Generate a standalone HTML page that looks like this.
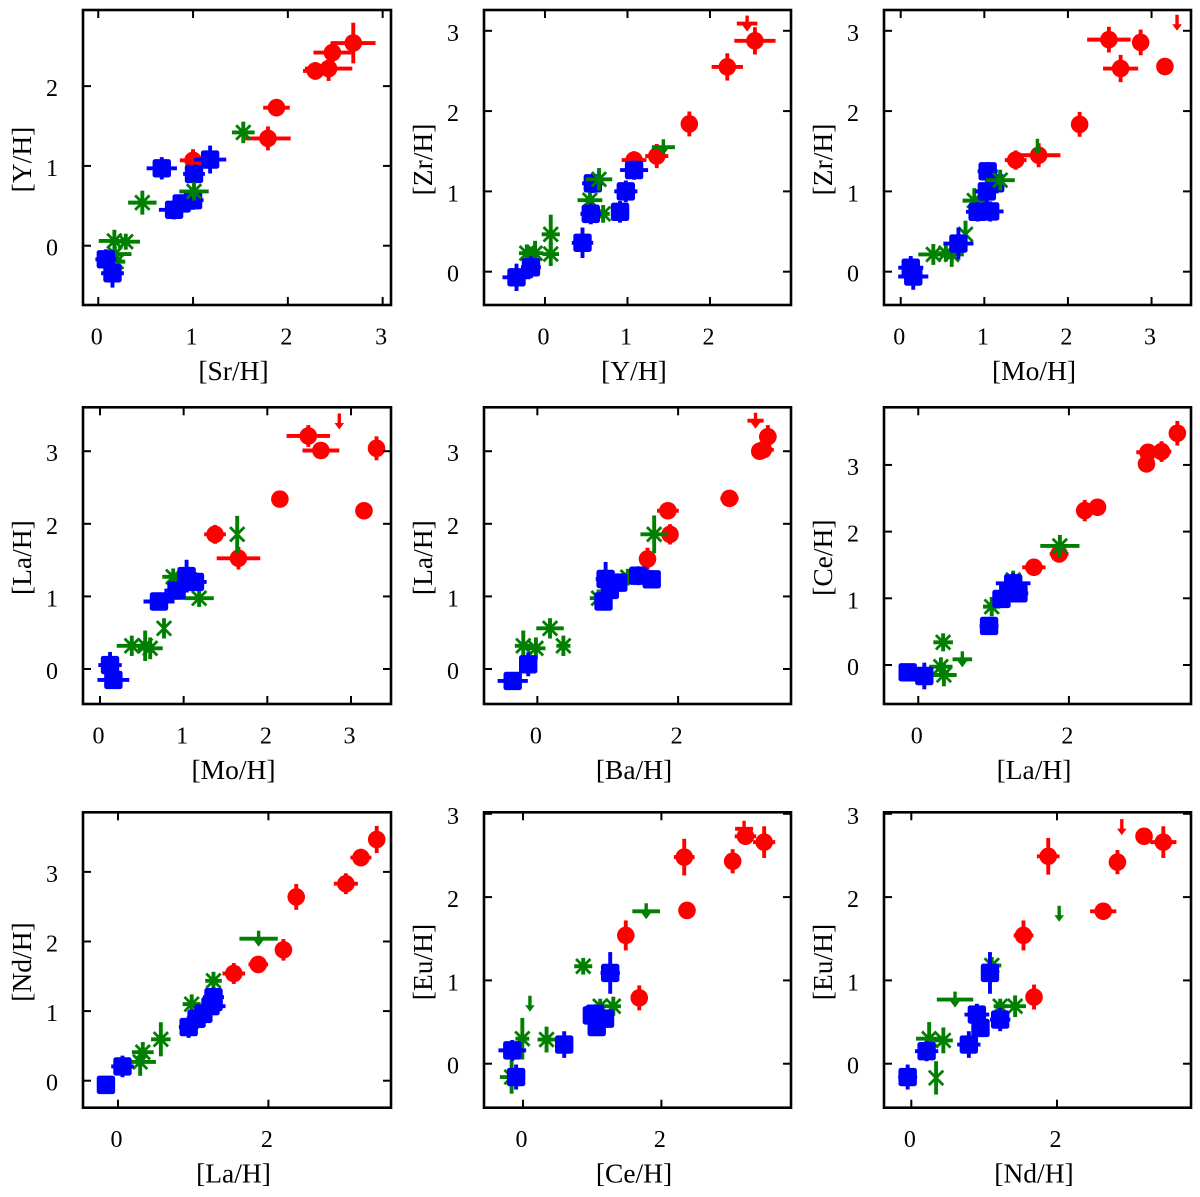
<!DOCTYPE html>
<html lang="en">
<head>
<meta charset="utf-8">
<title>Abundance correlations</title>
<style>
html,body{margin:0;padding:0;background:#fff;width:1200px;height:1197px;overflow:hidden}
svg{display:block;font-family:"Liberation Serif",serif;fill:#000}
</style>
</head>
<body>
<svg id="chart" xmlns="http://www.w3.org/2000/svg" width="1200" height="1197" viewBox="0 0 1200 1197"></svg>
<script>
// Panel 1: [Sr/H] vs [Y/H]
const p1Series=['r','r','r','r','r','r','r','g','g','g','g','g','g','b','b','b','b','b','b','b','b','g'];
const p1X=[1.00,1.79,1.88,2.29,2.43,2.47,2.69,0.465,1.53,0.17,0.29,0.175,0.19,0.67,1.18,1.01,0.80,0.88,1.00,0.08,0.15,1.01];
const p1Y=[1.07,1.345,1.73,2.19,2.22,2.42,2.54,0.54,1.42,0.06,0.05,-0.105,-0.20,0.97,1.08,0.90,0.45,0.53,0.57,-0.17,-0.345,0.68];
const p1XErr=[0.14,0.24,0.14,0.13,0.25,0.20,0.235,0.15,0.12,0.165,0.15,0.175,0.095,0.16,0.17,0.115,0.16,0.12,0.11,0.11,0.12,0.155];
const p1YErr=[0.14,0.15,0.11,0.11,0.155,0.135,0.255,0.15,0.135,0.14,0.10,0.10,0.08,0.14,0.175,0.09,0.12,0.09,0.12,0.125,0.18,0.115];
const p1Limit=[0,0,0,0,0,0,0,0,0,0,0,0,0,0,0,0,0,0,0,0,0,0];
// Panel 2: [Y/H] vs [Zr/H]
const p2Series=['r','r','r','r','r','r','g','g','g','g','g','g','g','b','b','b','b','b','b','b','b','g'];
const p2X=[2.45,2.545,2.21,1.75,1.355,1.08,0.545,0.705,0.07,0.07,-0.22,-0.12,1.435,1.08,0.98,0.91,0.58,0.555,0.455,-0.17,-0.345,0.655];
const p2Y=[3.09,2.875,2.55,1.84,1.44,1.39,0.89,0.72,0.465,0.22,0.23,0.23,1.55,1.265,1.00,0.745,1.10,0.72,0.36,0.055,-0.07,1.15];
const p2XErr=[0.125,0.25,0.19,0.09,0.14,0.15,0.15,0.08,0.11,0.10,0.095,0.10,0.14,0.17,0.14,0.11,0.13,0.125,0.13,0.12,0.17,0.16];
const p2YErr=[0,0.17,0.17,0.155,0.15,0.11,0.125,0.11,0.245,0.15,0.11,0.155,0,0.12,0.135,0.135,0.12,0.13,0.19,0.135,0.17,0.14];
const p2Limit=[1,0,0,0,0,0,0,0,0,0,0,0,1,0,0,0,0,0,0,0,0,0];
// Panel 3: [Mo/H] vs [Zr/H]
const p3Series=['r','r','r','r','r','r','r','r','g','g','g','g','g','g','b','b','b','b','b','b','b','b','g'];
const p3X=[3.305,2.49,2.87,2.63,3.16,2.14,1.65,1.375,0.88,0.775,0.39,0.54,0.61,1.635,1.04,1.13,1.03,0.92,1.07,0.69,0.12,0.15,1.19];
const p3Y=[3.10,2.89,2.855,2.53,2.555,1.835,1.45,1.39,0.885,0.465,0.215,0.23,0.215,1.555,1.25,1.10,1.00,0.745,0.75,0.35,0.05,-0.06,1.14];
const p3XErr=[0,0.26,0,0.21,0,0,0.26,0.13,0.14,0,0.18,0.09,0.145,0,0.12,0.10,0.14,0.14,0.16,0.18,0.15,0.18,0.175];
const p3YErr=[0,0.16,0.16,0.17,0,0.155,0.15,0.12,0.155,0.17,0.13,0.105,0.155,0,0.115,0.12,0.145,0.12,0.125,0.20,0.145,0.165,0.13];
const p3Limit=[1,0,0,0,0,0,0,0,0,0,0,0,0,1,0,0,0,0,0,0,0,0,0];
// Panel 4: [Mo/H] vs [La/H]
const p4Series=['r','r','r','r','r','r','r','r','g','g','g','g','g','g','g','b','b','b','b','b','b','b'];
const p4X=[2.86,2.49,2.64,3.305,2.15,3.155,1.375,1.655,1.64,0.875,1.185,0.765,0.38,0.54,0.60,1.035,1.135,1.05,0.915,0.705,0.12,0.16];
const p4Y=[3.41,3.21,3.01,3.04,2.34,2.18,1.855,1.525,1.855,1.27,0.975,0.56,0.32,0.32,0.285,1.28,1.20,1.22,1.08,0.93,0.055,-0.15];
const p4XErr=[0,0.26,0.22,0,0,0,0.13,0.26,0,0.13,0.175,0,0.18,0.09,0.15,0.11,0.14,0.11,0.145,0.185,0.14,0.19];
const p4YErr=[0,0.15,0,0.165,0,0,0.13,0.155,0.255,0.115,0.12,0.14,0.14,0.21,0.15,0.225,0.125,0.14,0.125,0.125,0.18,0.12];
const p4Limit=[1,0,0,0,0,0,0,0,0,0,0,0,0,0,0,0,0,0,0,0,0,0];
// Panel 5: [Ba/H] vs [La/H]
const p5Series=['r','r','r','r','r','r','r','r','g','g','g','g','g','g','g','b','b','b','b','b','b','b','b'];
const p5X=[3.10,3.275,3.21,3.16,2.73,1.855,1.885,1.565,1.66,1.285,0.87,0.18,0.37,-0.20,-0.02,0.97,1.15,1.03,0.94,1.435,1.625,-0.13,-0.35];
const p5Y=[3.42,3.20,3.02,3.00,2.35,2.18,1.855,1.515,1.855,1.265,0.975,0.56,0.32,0.32,0.285,1.24,1.19,1.09,0.93,1.285,1.235,0.065,-0.165];
const p5XErr=[0.115,0.125,0.15,0.10,0.13,0.155,0.06,0.10,0.195,0.10,0.125,0.195,0.10,0.12,0.135,0.14,0.12,0.10,0.11,0.13,0.125,0.12,0.215];
const p5YErr=[0,0.16,0.10,0.08,0.10,0.09,0.14,0.155,0.26,0.115,0.12,0.14,0.14,0.21,0.15,0.235,0.10,0.12,0.125,0.13,0.125,0.165,0.12];
const p5Limit=[1,0,0,0,0,0,0,0,0,0,0,0,0,0,0,0,0,0,0,0,0,0,0];
// Panel 6: [La/H] vs [Ce/H]
const p6Series=['r','r','r','r','r','r','r','r','g','g','g','g','g','g','g','b','b','b','b','b','b','b'];
const p6X=[3.44,3.23,3.05,3.03,2.38,2.21,1.87,1.535,1.88,1.26,0.975,0.33,0.30,0.34,0.585,1.26,1.33,1.195,1.105,0.94,-0.14,0.08];
const p6Y=[3.475,3.20,3.19,3.015,2.365,2.315,1.665,1.465,1.785,1.275,0.875,0.34,-0.025,-0.15,0.085,1.225,1.075,1.10,0.99,0.585,-0.11,-0.165];
const p6XErr=[0.08,0.13,0.155,0,0,0.10,0.125,0.155,0.26,0.10,0.115,0.13,0.155,0.17,0.13,0.23,0.13,0.10,0.12,0.125,0.12,0.11];
const p6YErr=[0.185,0.155,0.125,0,0,0.16,0.10,0.09,0.165,0.14,0.145,0.135,0.14,0.17,0,0.155,0.12,0.10,0.10,0.12,0.11,0.20];
const p6Limit=[0,0,0,0,0,0,0,0,0,0,0,0,0,0,1,0,0,0,0,0,0,0];
// Panel 7: [La/H] vs [Nd/H]
const p7Series=['r','r','r','r','r','r','r','g','g','g','g','g','g','b','b','b','b','b','b','b','b'];
const p7X=[3.44,3.23,3.03,2.37,2.20,1.865,1.54,1.27,0.98,0.57,0.33,0.295,1.87,1.27,1.23,1.135,1.045,0.94,1.27,0.06,-0.16];
const p7Y=[3.465,3.205,2.83,2.64,1.88,1.67,1.54,1.435,1.10,0.595,0.41,0.27,2.04,1.20,1.07,0.96,0.89,0.77,1.13,0.205,-0.06];
const p7XErr=[0,0.14,0.16,0,0.10,0.13,0.15,0.11,0.12,0.13,0.145,0.21,0.255,0.14,0.20,0.11,0.11,0.13,0.12,0.15,0.11];
const p7YErr=[0.195,0.125,0.15,0.185,0.155,0.10,0.15,0.13,0.14,0.245,0.145,0.20,0,0.14,0.11,0.11,0.10,0.155,0.12,0.155,0.13];
const p7Limit=[0,0,0,0,0,0,0,0,0,0,0,0,1,0,0,0,0,0,0,0,0];
// Panel 8: [Ce/H] vs [Eu/H]
const p8Series=['r','r','r','r','r','r','r','r','g','g','g','g','g','g','g','g','b','b','b','b','b','b','b','b'];
const p8X=[3.195,3.215,3.485,3.03,2.33,2.37,1.485,1.68,1.78,0.87,0.10,1.305,1.115,0.34,-0.01,-0.165,1.26,0.595,-0.155,-0.10,0.995,1.185,1.065,1.04];
const p8Y=[2.82,2.73,2.66,2.43,2.48,1.84,1.54,0.79,1.83,1.17,0.72,0.69,0.69,0.29,0.30,-0.16,1.09,0.23,0.16,-0.16,0.58,0.54,0.44,0.60];
const p8XErr=[0.13,0.155,0.16,0.08,0.15,0,0.08,0,0.20,0.13,0,0.11,0.09,0.13,0.10,0.17,0.14,0.13,0.20,0.13,0.13,0.11,0.10,0.10];
const p8YErr=[0,0.07,0.19,0.145,0.22,0,0.18,0.15,0,0.10,0,0.115,0.09,0.155,0.25,0.20,0.25,0.16,0.125,0.15,0.10,0.11,0.10,0.10];
const p8Limit=[1,0,0,0,0,0,0,0,1,0,1,0,0,0,0,0,0,0,0,0,0,0,0,0];
// Panel 9: [Nd/H] vs [Eu/H]
const p9Series=['r','r','r','r','r','r','r','r','g','g','g','g','g','g','g','g','b','b','b','b','b','b','b'];
const p9X=[2.89,3.195,3.46,2.83,1.88,2.635,1.54,1.685,2.03,0.60,1.105,1.425,1.22,0.44,0.245,0.34,1.08,0.90,0.95,1.22,0.79,0.21,-0.05];
const p9Y=[2.84,2.73,2.66,2.42,2.49,1.83,1.54,0.80,1.80,0.77,1.18,0.69,0.69,0.28,0.30,-0.17,1.09,0.59,0.43,0.53,0.23,0.15,-0.16];
const p9XErr=[0,0.09,0.18,0,0.155,0.18,0.135,0,0,0.25,0.13,0.15,0.09,0.13,0.18,0,0.11,0.17,0.12,0.14,0.16,0.16,0.13];
const p9YErr=[0,0.07,0.19,0.145,0.22,0.06,0.18,0.15,0,0,0.10,0.13,0.09,0.155,0.20,0.20,0.25,0.13,0.10,0.14,0.16,0.12,0.15];
const p9Limit=[1,0,0,0,0,0,0,0,1,1,0,0,0,0,0,0,0,0,0,0,0,0,0];
// Tick labels and axis titles
const xTicksP1=[0,1,2,3];
const yTicksP1=[0,1,2];
const xTicksP2=[0,1,2];
const xTicksWide=[0,1,2,3];
const xTicksEven=[0,2];
const yTicksFull=[0,1,2,3];
const xTitles=['[Sr/H]','[Y/H]','[Mo/H]','[Mo/H]','[Ba/H]','[La/H]','[La/H]','[Ce/H]','[Nd/H]'];
const yTitles=['[Y/H]','[Zr/H]','[Zr/H]','[La/H]','[La/H]','[Ce/H]','[Nd/H]','[Eu/H]','[Eu/H]'];

const panels=[
 {box:[83,391,10,305],xd:[-0.161,3.088],yd:[-0.743,2.954],xt:xTicksP1,yt:yTicksP1,s:p1Series,x:p1X,y:p1Y,xe:p1XErr,ye:p1YErr,l:p1Limit},
 {box:[484,791,10,305],xd:[-0.739,2.982],yd:[-0.415,3.259],xt:xTicksP2,yt:yTicksFull,s:p2Series,x:p2X,y:p2Y,xe:p2XErr,ye:p2YErr,l:p2Limit},
 {box:[884,1191,10,305],xd:[-0.2,3.472],yd:[-0.415,3.259],xt:xTicksWide,yt:yTicksFull,s:p3Series,x:p3X,y:p3Y,xe:p3XErr,ye:p3YErr,l:p3Limit},
 {box:[83,391,407.3,704],xd:[-0.203,3.478],yd:[-0.482,3.605],xt:xTicksWide,yt:yTicksFull,s:p4Series,x:p4X,y:p4Y,xe:p4XErr,ye:p4YErr,l:p4Limit},
 {box:[484,791,407.3,704],xd:[-0.758,3.604],yd:[-0.482,3.605],xt:xTicksEven,yt:yTicksFull,s:p5Series,x:p5X,y:p5Y,xe:p5XErr,ye:p5YErr,l:p5Limit},
 {box:[884,1191,407.3,704],xd:[-0.455,3.621],yd:[-0.585,3.864],xt:xTicksEven,yt:yTicksFull,s:p6Series,x:p6X,y:p6Y,xe:p6XErr,ye:p6YErr,l:p6Limit},
 {box:[83,391,812.3,1107.7],xd:[-0.465,3.63],yd:[-0.388,3.856],xt:xTicksEven,yt:yTicksFull,s:p7Series,x:p7X,y:p7Y,xe:p7XErr,ye:p7YErr,l:p7Limit},
 {box:[484,791,812.3,1107.7],xd:[-0.564,3.873],yd:[-0.528,3.018],xt:xTicksEven,yt:yTicksFull,s:p8Series,x:p8X,y:p8Y,xe:p8XErr,ye:p8YErr,l:p8Limit},
 {box:[884,1191,812.3,1107.7],xd:[-0.375,3.84],yd:[-0.528,3.018],xt:xTicksEven,yt:yTicksFull,s:p9Series,x:p9X,y:p9Y,xe:p9XErr,ye:p9YErr,l:p9Limit}
];
const colors={r:'#ff0000',g:'#007f00',b:'#0000ff'};
const seriesNames={r:'red',g:'green',b:'blue'};
const NS='http://www.w3.org/2000/svg';
const root=document.getElementById('chart');

function mk(tag,attrs,parent){
  const el=document.createElementNS(NS,tag);
  for(const k in attrs){el.setAttribute(k,attrs[k]);}
  parent.appendChild(el);
  return el;
}
function seg(parent,x1,y1,x2,y2,stroke,w){
  return mk('line',{x1:x1,y1:y1,x2:x2,y2:y2,stroke:stroke,'stroke-width':w},parent);
}
function drawPoint(g,sx,sy,p,i){
  const kind=p.s[i];
  const c=colors[kind];
  const cx=sx(p.x[i]);
  const cy=sy(p.y[i]);
  const pt=mk('g',{},g);
  
  
  if(p.xe[i]>0){
    seg(pt,sx(p.x[i]-p.xe[i]),cy,sx(p.x[i]+p.xe[i]),cy,c,3.9);
  }
  if(p.l[i]){
    seg(pt,cx,cy-8,cx,cy+3,c,3.4);
    mk('path',{d:'M'+(cx-4.8)+' '+(cy+1.5)+'L'+(cx+4.8)+' '+(cy+1.5)+'L'+cx+' '+(cy+8)+'Z',fill:c},pt);
    return;
  }
  if(p.ye[i]>0){
    seg(pt,cx,sy(p.y[i]-p.ye[i]),cx,sy(p.y[i]+p.ye[i]),c,3.9);
  }
  if(kind==='r'){
    mk('circle',{cx:cx,cy:cy,r:8.8,fill:c},pt);
  }else if(kind==='b'){
    mk('rect',{x:cx-9.2,y:cy-9.2,width:18.4,height:18.4,rx:2.5,fill:c},pt);
  }else{
    seg(pt,cx-7.2,cy-7.2,cx+7.2,cy+7.2,c,2.8);
    seg(pt,cx-7.2,cy+7.2,cx+7.2,cy-7.2,c,2.8);
  }
}
function drawPanel(p,idx){
  const L=p.box[0],R=p.box[1],T=p.box[2],B=p.box[3];
  const sx=function(v){return L+(v-p.xd[0])/(p.xd[1]-p.xd[0])*(R-L);};
  const sy=function(v){return B-(v-p.yd[0])/(p.yd[1]-p.yd[0])*(B-T);};
  const g=mk('g',{},root);
  
  

  const marks=mk('g',{},g);
  
  
  for(let i=0;i<p.x.length;i++){drawPoint(marks,sx,sy,p,i);}

  const frame=mk('rect',{x:L,y:T,width:R-L,height:B-T,fill:'none',stroke:'#000','stroke-width':2.6},g);
  
  

  p.xt.forEach(function(v){
    const x=sx(v);
    const tb=seg(g,x,B,x,B-8,'#000',2);
    
    
    const tt=seg(g,x,T,x,T+8,'#000',2);
    
    
    const lab=mk('text',{x:x-1.5,y:B+39.5,'font-size':24,'text-anchor':'middle'},g);
    lab.textContent=String(v);
    
    
  });
  p.yt.forEach(function(v){
    const y=sy(v);
    const tl=seg(g,L,y,L+8,y,'#000',2);
    
    
    const tr=seg(g,R,y,R-8,y,'#000',2);
    
    
    const lab=mk('text',{x:L-25,y:y+10,'font-size':24,'text-anchor':'end'},g);
    lab.textContent=String(v);
    
    
  });

  const xt=mk('text',{x:(L+R)/2-3.5,y:B+75,'font-size':27.5,'text-anchor':'middle'},g);
  xt.textContent=xTitles[idx];
  
  

  const yc=(T+B)/2+2;
  const yb=L-52;
  const yt=mk('text',{x:yb,y:yc,'font-size':27.5,'text-anchor':'middle',transform:'rotate(-90 '+yb+' '+yc+')'},g);
  yt.textContent=yTitles[idx];
  
  
}
panels.forEach(drawPanel);
</script>
</body>
</html>
